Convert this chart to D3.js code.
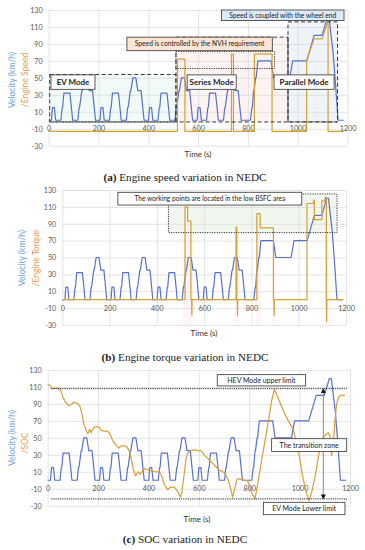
<!DOCTYPE html>
<html>
<head>
<meta charset="utf-8">
<script src="https://cdn.jsdelivr.net/npm/d3@7"></script>
<style>
  body { margin: 0; background: #fff; }
  svg text { font-family: Lato, "Liberation Sans", sans-serif; }
</style>
</head>
<body>
<script>
// axis ticks
const timeTicks = [0, 200, 400, 600, 800, 1000, 1200];
const valueTicks = [-30, -10, 10, 30, 50, 70, 90, 110, 130];

// NEDC velocity (km/h)
const velT = [0, 11, 15, 23, 28, 49, 54, 56, 61, 85, 93, 96, 117, 122, 124, 133, 135, 143, 155, 163, 176, 188,
  195, 206, 210, 218, 223, 244, 249, 251, 256, 280, 288, 291, 312, 317, 319, 328, 330, 338, 350, 358, 371, 383,
  390, 401, 405, 413, 418, 439, 444, 446, 451, 475, 483, 486, 507, 512, 514, 523, 525, 533, 545, 553, 566, 578,
  585, 596, 600, 608, 613, 634, 639, 641, 646, 670, 678, 681, 702, 707, 709, 718, 720, 728, 740, 748, 761, 773,
  780, 810, 816, 818, 823, 825, 831, 833, 840, 893, 903, 968, 980, 1036, 1066, 1098, 1118, 1126, 1142, 1150, 1162, 1185];
const velV = [0, 0, 15, 15, 0, 0, 15, 15, 32, 32, 10, 0, 0, 15, 15, 35, 35, 50, 50, 35, 35, 0,
  0, 0, 15, 15, 0, 0, 15, 15, 32, 32, 10, 0, 0, 15, 15, 35, 35, 50, 50, 35, 35, 0,
  0, 0, 15, 15, 0, 0, 15, 15, 32, 32, 10, 0, 0, 15, 15, 35, 35, 50, 50, 35, 35, 0,
  0, 0, 15, 15, 0, 0, 15, 15, 32, 32, 10, 0, 0, 15, 15, 35, 35, 50, 50, 35, 35, 0,
  0, 0, 15, 15, 35, 35, 50, 50, 70, 70, 50, 50, 70, 70, 100, 100, 120, 120, 80, 50, 0, 0];

// (a) engine speed, scaled onto the same axis
const speedT = [0, 517, 517, 547, 547, 734, 734, 742, 742, 826, 826, 897, 897, 1036, 1036, 1066, 1098, 1118, 1122, 1122, 1186];
const speedV = [-13, -13, 72, 72, -13, -13, 78, 78, -13, -13, 78, 78, -13, -13, 71, 96, 96, 114, 114, -13, -13];

// (b) engine torque
const torqueT = [0, 519, 519, 530, 530, 544, 544, 547, 548, 549,
  735, 735, 738, 738, 740, 741, 742,
  823, 823, 837, 837, 893, 893, 895, 896, 897,
  1035, 1035, 1062, 1063, 1066, 1066, 1098, 1098, 1110, 1113, 1117, 1117, 1118, 1119, 1190];
const torqueV = [0, 0, 110, 110, 93, 93, 0, 0, -18, 0,
  0, 86, 86, 0, 0, -19, 0,
  0, 102, 102, 85, 85, 0, 0, -19, 0,
  0, 114, 114, 118, 118, 95, 95, 117, 117, 122, 117, 0, -26, 0, 0];

// (c) SOC
const socT = [0, 9, 16, 43, 52, 60, 69, 83, 92, 103, 116, 127, 136, 143, 152, 159, 167, 172, 180, 189, 203, 212, 223, 236,
  247, 256, 269, 283, 289, 303, 313, 323, 332, 340, 349, 359, 367, 376, 383, 393, 409, 429, 443, 452, 463, 476, 489,
  503, 516, 527, 532, 540, 549, 556, 569, 583, 596, 607, 624, 638, 644, 658, 671, 680, 691, 704, 717, 728, 734, 744,
  750, 757, 770, 783, 794, 803, 812, 823, 836, 849, 863, 876, 889, 900, 916, 935, 955, 975, 989, 1002, 1015, 1028,
  1037, 1048, 1061, 1074, 1087, 1101, 1114, 1121, 1127, 1134, 1140, 1147, 1156, 1167, 1180];
const socV = [113, 112, 108.5, 108.5, 106, 98, 93, 88, 89, 92, 91, 88, 78, 67, 59, 55, 60, 56, 61, 63, 63, 59, 58, 58,
  55, 48, 42, 38, 40, 41, 40, 35, 25, 13, 5, 10, 7, 11, 14, 13, 11, 10, 10, 5, -5, -11, -8, -8, -13, -20, -15, 3, 25,
  32, 35, 36, 35, 35, 29, 25, 23, 19, 15, 12, 11, 8, 0, -12, -20, -8, 0, 2, 1, 0, -1, -8, -16, -22, 0, 23, 47, 70,
  94, 107, 96, 82, 70, 60, 43, 23, 0, -16, -24, -14, 4, 27, 47, 53, 56, 51, 29, 43, 70, 90, 99, 100, 100];

const BLUE = "#5872c9";
const ORANGE = "#d4a037";

const svg = d3.select("body").append("svg").attr("width", 365).attr("height", 550);

const defs = svg.append("defs");
defs.append("marker").attr("id", "arr").attr("viewBox", "0 0 10 10")
  .attr("refX", 9).attr("refY", 5).attr("markerWidth", 5).attr("markerHeight", 5)
  .attr("orient", "auto-start-reverse")
  .append("path").attr("d", "M0,0L10,5L0,10z").attr("fill", "#111");

const zip = (ts, vs) => ts.map((t, i) => ({t: t, v: vs[i]}));

function drawPanel(p) {
  const x = d3.scaleLinear().domain([0, 1200]).range([p.left, p.right]);
  const y = d3.scaleLinear().domain([-30, 130]).range([p.bottom, p.top]);
  const g = svg.append("g");

  if (p.under) p.under(g, x, y);

  // grid
  g.append("g").attr("transform", `translate(0,${p.bottom})`)
    .call(d3.axisBottom(x).tickValues(timeTicks).tickSize(-(p.bottom - p.top)).tickFormat(""))
    .call(a => a.select(".domain").remove())
    .call(a => a.selectAll("line").attr("stroke", "#d9d9d9").attr("stroke-width", 0.7));
  g.append("g").attr("transform", `translate(${p.left},0)`)
    .call(d3.axisLeft(y).tickValues(valueTicks).tickSize(-(p.right - p.left)).tickFormat(d => d))
    .call(a => a.select(".domain").remove())
    .call(a => a.selectAll("line").attr("stroke", "#d9d9d9").attr("stroke-width", 0.7))
    .call(a => a.selectAll("text").attr("x", -6).attr("fill", "#595959").attr("font-size", 7.2)
      .style("font-family", "Lato, 'Liberation Sans', sans-serif"));

  // time labels sit on the -10 line
  g.append("g").attr("transform", `translate(0,${y(-10)})`)
    .call(d3.axisBottom(x).tickValues(timeTicks).tickSize(0).tickFormat(d => d))
    .call(a => a.select(".domain").remove())
    .call(a => a.selectAll("text").attr("y", 0).attr("dy", "0.35em").attr("fill", "#595959")
      .attr("font-size", 7.2).style("font-family", "Lato, 'Liberation Sans', sans-serif"));

  const line = d3.line().x(d => x(d.t)).y(d => y(d.v));
  g.append("path").datum(zip(velT, velV)).attr("d", line)
    .attr("fill", "none").attr("stroke", BLUE).attr("stroke-width", 1.2).attr("stroke-linejoin", "round");
  g.append("path").datum(zip(p.seriesT, p.seriesV)).attr("d", line)
    .attr("fill", "none").attr("stroke", ORANGE).attr("stroke-width", 1.2).attr("stroke-linejoin", "round");

  if (p.over) p.over(g, x, y);

  g.append("text").attr("x", p.xTitle[0]).attr("y", p.xTitle[1]).attr("text-anchor", "middle")
    .attr("font-size", 8).attr("fill", "#333").text("Time (s)");

  g.append("text").attr("transform", `translate(${p.yTitle1[0]},${p.yTitle1[1]}) rotate(-90)`)
    .attr("text-anchor", "middle").attr("dy", "0.35em").attr("font-size", 8.5).attr("fill", "#6fa3d8")
    .text("Velocity (km/h)");
  g.append("text").attr("transform", `translate(${p.yTitle2[0]},${p.yTitle2[1]}) rotate(-90)`)
    .attr("text-anchor", "middle").attr("dy", "0.35em").attr("font-size", 8.5).attr("fill", "#e69b54")
    .text(p.yTitleText);

  const cap = g.append("text").attr("x", 185).attr("y", p.capY).attr("text-anchor", "middle")
    .attr("font-size", 11.2).attr("fill", "#222").style("font-family", "'Liberation Serif', 'DejaVu Serif', serif");
  cap.append("tspan").attr("font-weight", "bold").text(p.capTag);
  cap.append("tspan").text(" " + p.capText);
}

function labelBox(g, x, y, t0, t1, v0, v1, text, opt) {
  opt = opt || {};
  g.append("rect").attr("x", x(t0)).attr("y", y(v0)).attr("width", x(t1) - x(t0)).attr("height", y(v1) - y(v0))
    .attr("fill", opt.fill || "#fff").attr("stroke", "#333").attr("stroke-width", 0.8);
  g.append("text").attr("x", (x(t0) + x(t1)) / 2).attr("y", (y(v0) + y(v1)) / 2).attr("dy", "0.35em")
    .attr("text-anchor", "middle").attr("font-size", opt.size || 6.4)
    .attr("font-weight", opt.bold ? "bold" : "normal").attr("fill", "#1a1a1a").text(text);
}

function area(g, x, y, t0, t1, v0, v1, fill, stroke, dash) {
  g.append("rect").attr("x", x(t0)).attr("y", y(v1)).attr("width", x(t1) - x(t0)).attr("height", y(v0) - y(v1))
    .attr("fill", fill).attr("stroke", stroke).attr("stroke-width", stroke === "none" ? 0 : 0.9)
    .attr("stroke-dasharray", dash);
}

// (a)
drawPanel({
  left: 48.7, right: 347.5, top: 10, bottom: 145.7,
  seriesT: speedT, seriesV: speedV,
  xTitle: [198, 157], yTitle1: [12, 80], yTitle2: [25, 80], yTitleText: "/Engine Speed",
  capY: 181, capTag: "(a)", capText: "Engine speed variation in NEDC",
  under: (g, x, y) => {
    area(g, x, y, 4, 511, -2, 54, "#f0faf7", "none");
    area(g, x, y, 511, 961, -2, 98, "#fdf3f3", "none");
    area(g, x, y, 961, 1160, -2, 116, "#eef4fa", "none");
  },
  over: (g, x, y) => {
    area(g, x, y, 4, 511, -2, 54, "none", "#222", "4,2.5");
    g.append("path").attr("d", `M${x(511)},${y(-2)}V${y(98)}H${x(961)}`)
      .attr("fill", "none").attr("stroke", "#222").attr("stroke-width", 0.9).attr("stroke-dasharray", "4,2.5");
    g.append("line").attr("x1", x(961)).attr("x2", x(961)).attr("y1", y(98)).attr("y2", y(-2))
      .attr("stroke", "#333").attr("stroke-width", 0.9);
    area(g, x, y, 961, 1160, -2, 116, "none", "#222", "4,2.5");
    g.append("line").attr("x1", x(4)).attr("x2", x(1160)).attr("y1", y(-2)).attr("y2", y(-2))
      .attr("stroke", "#222").attr("stroke-width", 0.9).attr("stroke-dasharray", "4,2.5");
    area(g, x, y, 511, 907, 61, 81, "none", "#222", "1.2,1.2");
    labelBox(g, x, y, 9, 186, 53.5, 36.5, "EV Mode", {bold: true, size: 8});
    labelBox(g, x, y, 556, 753, 53.5, 36.5, "Series Mode", {bold: true, size: 8});
    labelBox(g, x, y, 905, 1146, 53.5, 36.5, "Parallel Mode", {bold: true, size: 8});
    labelBox(g, x, y, 314, 898, 98, 82, "Speed is controlled by the NVH requirement", {fill: "#fbe5d6", size: 6.7});
    labelBox(g, x, y, 694, 1186, 130, 117.5, "Speed is coupled with the wheel end", {fill: "#dfe9f5", size: 6.7});
  }
});

// (b)
const bandsB = [[512, 552], [730, 746], [818, 840], [889, 902], [1110, 1124]];
drawPanel({
  left: 62.3, right: 346, top: 190, bottom: 325,
  seriesT: torqueT, seriesV: torqueV,
  xTitle: [204, 336], yTitle1: [21.7, 258], yTitle2: [36, 258], yTitleText: "/Engine Torque",
  capY: 360.5, capTag: "(b)", capText: "Engine torque variation in NEDC",
  under: (g, x, y) => {
    bandsB.forEach(b => area(g, x, y, b[0], b[1], -30, 130, "#fef4f6", "none"));
    area(g, x, y, 449, 1162, 79.5, 125.3, "#f1f7ef", "none");
  },
  over: (g, x, y) => {
    area(g, x, y, 449, 1162, 79.5, 125.3, "none", "#222", "1.2,1.2");
    labelBox(g, x, y, 235, 1013, 127.3, 112.2, "The working points are located in the low BSFC area", {size: 6.6});
  }
});

// (c)
drawPanel({
  left: 47.7, right: 350, top: 370, bottom: 505.7,
  seriesT: socT, seriesV: socV,
  xTitle: [197, 522], yTitle1: [11.7, 438], yTitle2: [25, 443], yTitleText: "/SOC",
  capY: 543, capTag: "(c)", capText: "SOC variation in NEDC",
  over: (g, x, y) => {
    [108, -22].forEach(v => g.append("line").attr("x1", x(14)).attr("x2", x(1188)).attr("y1", y(v)).attr("y2", y(v))
      .attr("stroke", "#222").attr("stroke-width", 1).attr("stroke-dasharray", "1.2,1"));
    g.append("line").attr("x1", x(1094)).attr("x2", x(1094)).attr("y1", y(-22)).attr("y2", y(108))
      .attr("stroke", "#8a8a8a").attr("stroke-width", 1)
      .attr("marker-start", "url(#arr)").attr("marker-end", "url(#arr)");
    labelBox(g, x, y, 673, 1024, 124.5, 111.2, "HEV Mode upper limit", {size: 7});
    labelBox(g, x, y, 889, 1187, 49, 34, "The transition zone", {size: 7});
    labelBox(g, x, y, 856, 1180, -26, -40.6, "EV Mode Lower limit", {size: 7});
  }
});
</script>
</body>
</html>
